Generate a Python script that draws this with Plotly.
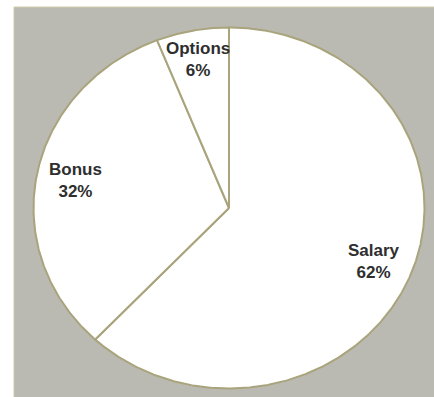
import numpy as np
import plotly.graph_objects as go

# Compensation mix
categories = ["Salary", "Bonus", "Options"]
shares = [62, 32, 6]
label_radius = [0.80, 0.80, 0.84]

W, H = 434, 397
EDGE = "#A9A47C"
BG = "#BABAB2"

# pixel geometry of the elliptical pie
cx, cy = 229.0, 208.0
rx, ry = 195.5, 180.5

fig = go.Figure()

total = float(sum(shares))
start = 0.0  # clockwise from 12 o'clock, in degrees
mids = []
for name, val in zip(categories, shares):
    sweep = 360.0 * val / total
    ang = np.linspace(start, start + sweep, max(int(sweep * 2), 8))
    theta = np.radians(90.0 - ang)
    xs = np.concatenate([[0.0], np.cos(theta), [0.0]])
    ys = np.concatenate([[0.0], np.sin(theta), [0.0]])
    fig.add_trace(go.Scatter(
        x=xs, y=ys, mode="lines", fill="toself",
        fillcolor="white", line=dict(color=EDGE, width=2),
        hoverinfo="skip", showlegend=False, name=name,
    ))
    mids.append(np.radians(90.0 - (start + sweep / 2)))
    start += sweep

for name, val, t, r in zip(categories, shares, mids, label_radius):
    fig.add_annotation(
        x=r * np.cos(t), y=r * np.sin(t), xref="x", yref="y",
        text=f"{name}<br>{val}%", showarrow=False,
        font=dict(family="Liberation Sans, Arial, sans-serif", size=17,
                  color="#2E2E2E", weight="bold"),
        align="center",
    )

# gray panel behind the pie
fig.add_shape(type="rect", xref="paper", yref="paper",
              x0=14 / W, y0=-0.02, x1=1.02, y1=1 - 7 / H,
              fillcolor=BG, line=dict(color="#CFCBA8", width=1), layer="below")

fig.update_xaxes(range=[-cx / rx, (W - cx) / rx], visible=False, fixedrange=True)
fig.update_yaxes(range=[-(H - cy) / ry, cy / ry], visible=False, fixedrange=True)

fig.update_layout(
    width=W, height=H,
    margin=dict(l=0, r=0, t=0, b=0),
    paper_bgcolor="white", plot_bgcolor="rgba(0,0,0,0)",
)

fig.write_html("out.html")
